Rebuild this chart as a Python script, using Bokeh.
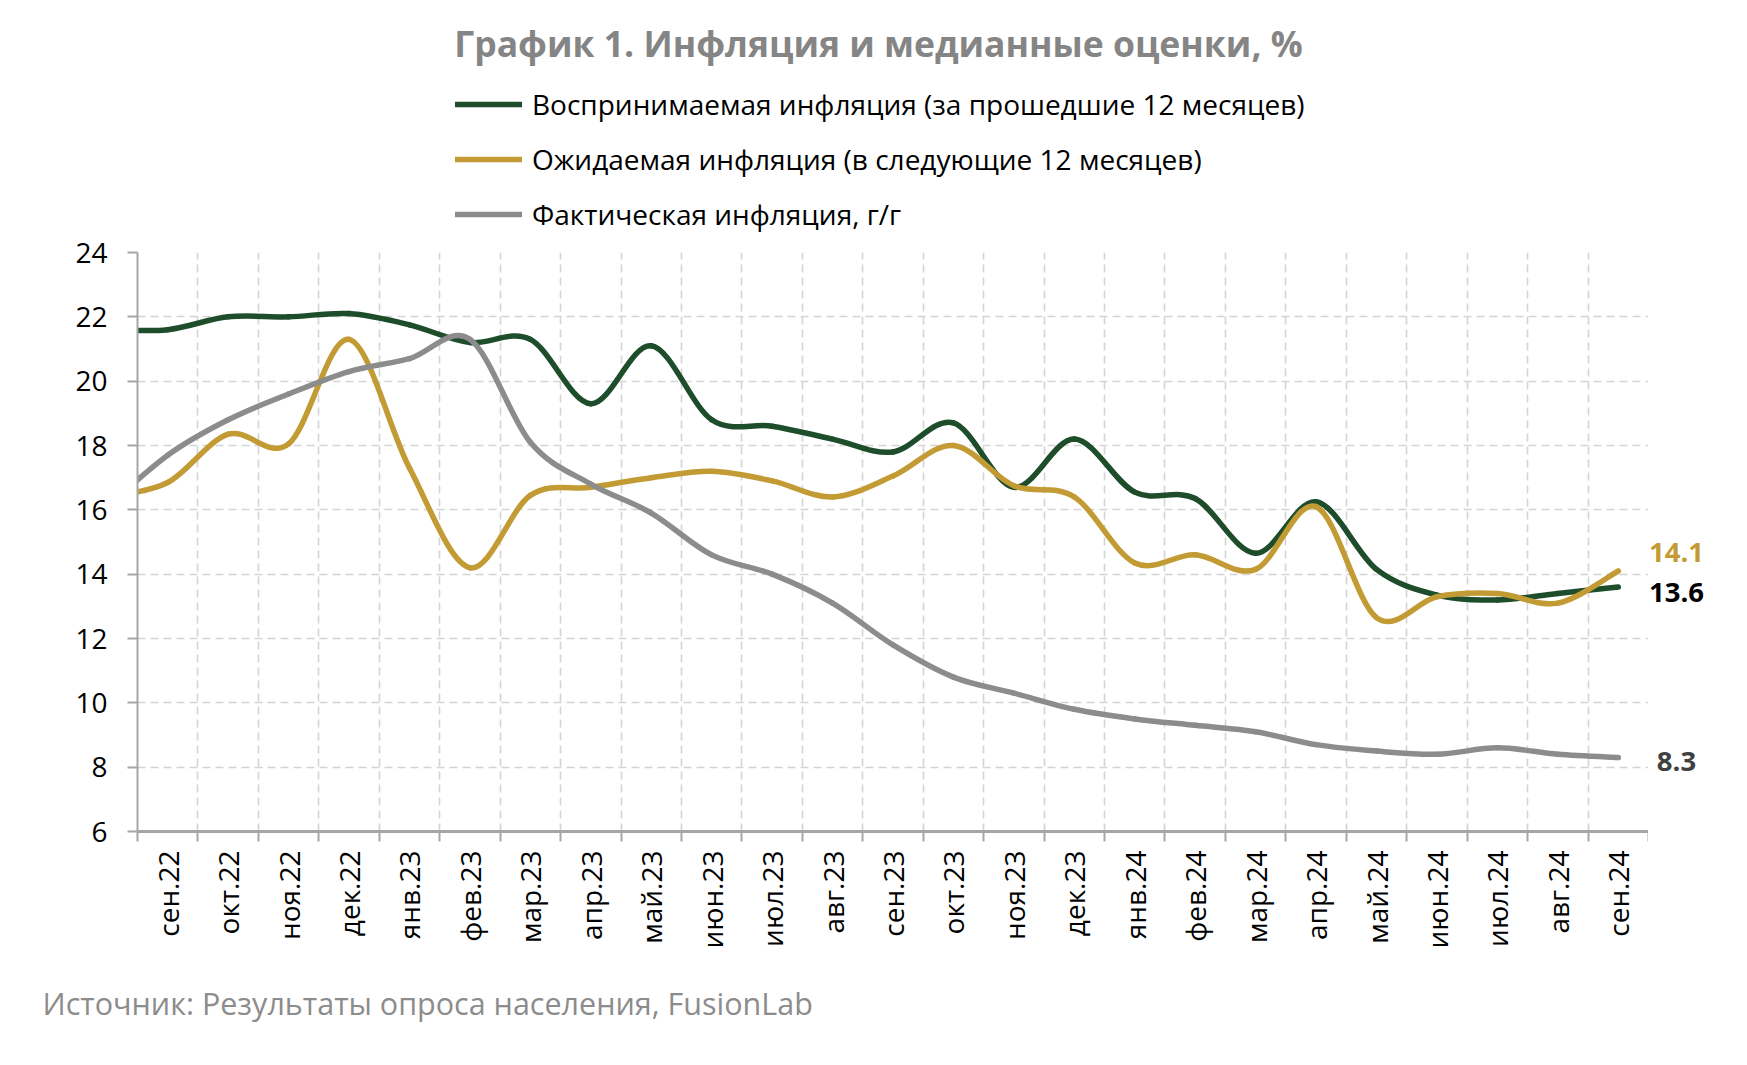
import numpy as np
from bokeh.plotting import figure
from bokeh.layouts import column, row
from bokeh.models import FixedTicker, Legend, LegendItem, Title, Range1d, ColumnDataSource
from bokeh.core.properties import value
from bokeh.embed import file_html
from bokeh.resources import INLINE

# ---------------- data ----------------
months = ["авг.22", "сен.22", "окт.22", "ноя.22", "дек.22", "янв.23", "фев.23", "мар.23",
          "апр.23", "май.23", "июн.23", "июл.23", "авг.23", "сен.23", "окт.23", "ноя.23",
          "дек.23", "янв.24", "фев.24", "мар.24", "апр.24", "май.24", "июн.24", "июл.24",
          "авг.24", "сен.24"]
perceived = [21.6, 21.6, 22.0, 22.0, 22.1, 21.75, 21.2, 21.3, 19.3, 21.1, 18.8, 18.6, 18.2,
             17.8, 18.7, 16.7, 18.2, 16.55, 16.35, 14.65, 16.25, 14.15, 13.35, 13.2, 13.4, 13.6]
expected = [16.4, 16.85, 18.35, 18.05, 21.3, 17.3, 14.2, 16.45, 16.7, 17.0, 17.2, 16.9, 16.4,
            17.05, 18.0, 16.75, 16.4, 14.35, 14.6, 14.15, 16.1, 12.65, 13.3, 13.4, 13.1, 14.1]
actual = [16.1, 17.7, 18.8, 19.6, 20.3, 20.7, 21.3, 18.1, 16.8, 15.9, 14.6, 14.0, 13.1, 11.8,
          10.8, 10.3, 9.8, 9.5, 9.3, 9.1, 8.7, 8.5, 8.4, 8.6, 8.4, 8.3]
series_names = ["Воспринимаемая инфляция (за прошедшие 12 месяцев)",
                "Ожидаемая инфляция (в следующие 12 месяцев)",
                "Фактическая инфляция, г/г"]
y_ticks = [6, 8, 10, 12, 14, 16, 18, 20, 22, 24]
title_text = "График 1. Инфляция и медианные оценки, %"
source_text = "Источник: Результаты опроса населения, FusionLab"

GREEN = "#1e4d2b"
GOLD = "#c39b34"
GRAY = "#8c8c8c"
FONT = "Open Sans"

# x positions: month i sits at the centre of its category (first month lies before the axis start)
xs = np.arange(len(months)) - 0.5
shown = len(months) - 1


def bezier_parts(x, y):
    x = np.asarray(x, float)
    y = np.asarray(y, float)
    n = len(x)
    xp = np.concatenate([[x[0]], x, [x[-1]]])
    yp = np.concatenate([[y[0]], y, [y[-1]]])
    out = dict(x0=[], y0=[], x1=[], y1=[], cx0=[], cy0=[], cx1=[], cy1=[])
    for i in range(n - 1):
        pm, p0, p1, p2 = i, i + 1, i + 2, i + 3
        out["x0"].append(xp[p0]); out["y0"].append(yp[p0])
        out["x1"].append(xp[p1]); out["y1"].append(yp[p1])
        out["cx0"].append(xp[p0] + (xp[p1] - xp[pm]) / 6.0)
        out["cy0"].append(yp[p0] + (yp[p1] - yp[pm]) / 6.0)
        out["cx1"].append(xp[p1] - (xp[p2] - xp[p0]) / 6.0)
        out["cy1"].append(yp[p1] - (yp[p2] - yp[p0]) / 6.0)
    return out


W, H = 1745, 1063
HEAD_H = 233
MAIN_W = 1648
MAIN_H = H - HEAD_H
RIGHT_W = W - MAIN_W
TOP_B = 252 - HEAD_H
BOT_B = MAIN_H - (831 - HEAD_H)


def bare(fig):
    fig.outline_line_color = None
    fig.background_fill_color = "white"
    fig.border_fill_color = "white"
    fig.xaxis.visible = False
    fig.yaxis.visible = False
    fig.xgrid.visible = False
    fig.ygrid.visible = False


# ---------------- header: title + legend ----------------
head = figure(width=W, height=HEAD_H, output_backend="svg", toolbar_location=None,
              x_range=Range1d(0, W), y_range=Range1d(0, HEAD_H),
              min_border_left=0, min_border_right=0, min_border_top=0, min_border_bottom=0)
bare(head)
head.text(x=[878], y=[HEAD_H - 42], text=[title_text], text_align="center", text_baseline="middle",
          text_font=value(FONT), text_font_style="bold", text_font_size="35.5px", text_color="#858585")

# legend keys: renderers with no visible geometry, styled like the series
leg_renderers = [head.line(x=np.array([np.nan]), y=np.array([np.nan]), line_color=c,
                           line_width=5.5, line_cap="round")
                 for c in (GREEN, GOLD, GRAY)]
legend = Legend(items=[LegendItem(label=series_names[i], renderers=[leg_renderers[i]]) for i in range(3)],
                orientation="vertical", location=(455, 0))
legend.label_text_font = FONT
legend.label_text_font_size = "28px"
legend.label_text_color = "black"
legend.glyph_width = 67
legend.glyph_height = 30
legend.label_height = 30
legend.label_standoff = 10
legend.spacing = 17
legend.padding = 0
legend.margin = 0
legend.border_line_color = None
legend.background_fill_alpha = 0
head.add_layout(legend)

# ---------------- main chart ----------------
p = figure(width=MAIN_W, height=MAIN_H, output_backend="svg", toolbar_location=None,
           x_range=Range1d(0, shown), y_range=Range1d(6, 24),
           min_border_left=137, min_border_right=0, min_border_top=TOP_B, min_border_bottom=BOT_B)
p.outline_line_color = None
p.background_fill_color = "white"
p.border_fill_color = "white"

centers = [i + 0.5 for i in range(shown)]
bounds = list(range(shown + 1))
p.xaxis.ticker = FixedTicker(ticks=centers, minor_ticks=bounds)
p.xaxis.major_label_overrides = {c: months[i + 1] for i, c in enumerate(centers)}
p.xaxis.major_label_orientation = np.pi / 2
p.xaxis.major_tick_line_color = None
p.xaxis.major_tick_out = 10
p.xaxis.major_tick_in = 0
p.xaxis.minor_tick_out = 10
p.xaxis.minor_tick_in = 0
p.xaxis.minor_tick_line_color = "#a6a6a6"
p.xaxis.minor_tick_line_width = 2
p.xaxis.axis_line_color = "#a6a6a6"
p.xaxis.axis_line_width = 3
p.xaxis.major_label_text_font = FONT
p.xaxis.major_label_text_font_size = "28px"
p.xaxis.major_label_text_color = "black"
p.xaxis.major_label_standoff = 9

p.yaxis.ticker = FixedTicker(ticks=y_ticks, minor_ticks=[])
p.yaxis.axis_line_color = "#a6a6a6"
p.yaxis.axis_line_width = 2
p.yaxis.major_tick_line_color = "#a6a6a6"
p.yaxis.major_tick_line_width = 2
p.yaxis.major_tick_out = 10
p.yaxis.major_tick_in = 0
p.yaxis.minor_tick_line_color = None
p.yaxis.major_label_text_font = FONT
p.yaxis.major_label_text_font_size = "28px"
p.yaxis.major_label_text_color = "black"
p.yaxis.major_label_standoff = 20

p.ygrid.grid_line_color = "#d4d4d4"
p.ygrid.grid_line_width = 1.6
p.ygrid.grid_line_dash = "8 5"
p.xgrid.grid_line_color = None
p.xgrid.minor_grid_line_color = "#d4d4d4"
p.xgrid.minor_grid_line_width = 1.6
p.xgrid.minor_grid_line_dash = "8 5"

for vals, col in [(perceived, GREEN), (expected, GOLD), (actual, GRAY)]:
    d = bezier_parts(xs, vals)
    p.bezier(x0=d["x0"], y0=d["y0"], x1=d["x1"], y1=d["y1"],
             cx0=d["cx0"], cy0=d["cy0"], cx1=d["cx1"], cy1=d["cy1"],
             line_color=col, line_width=5.5, line_cap="round")

src = Title(text=source_text, align="left", offset=-95, text_font=FONT, text_font_style="normal",
            text_font_size="30.5px", text_color="#8c8c8c", standoff=56)
p.add_layout(src, "below")

# ---------------- right strip: end-of-series values ----------------
rs = figure(width=RIGHT_W, height=MAIN_H, output_backend="svg", toolbar_location=None,
            x_range=Range1d(0, RIGHT_W), y_range=p.y_range,
            min_border_left=0, min_border_right=0, min_border_top=TOP_B, min_border_bottom=BOT_B)
bare(rs)
end_src = ColumnDataSource(dict(
    y=[expected[-1], perceived[-1], actual[-1]],
    text=[f"{expected[-1]:.1f}", f"{perceived[-1]:.1f}", f"{actual[-1]:.1f}"],
    color=[GOLD, "black", "#404040"],
    yoff=[-18, 5, 4],
))
rs.text(x=28, y="y", text="text", text_color="color", y_offset="yoff", source=end_src,
        text_align="center", text_baseline="middle", text_font=value(FONT),
        text_font_style="bold", text_font_size="27.5px")

layout = column(head, row(p, rs, spacing=0), spacing=0)
open("out.html", "w").write(file_html(layout, INLINE))
